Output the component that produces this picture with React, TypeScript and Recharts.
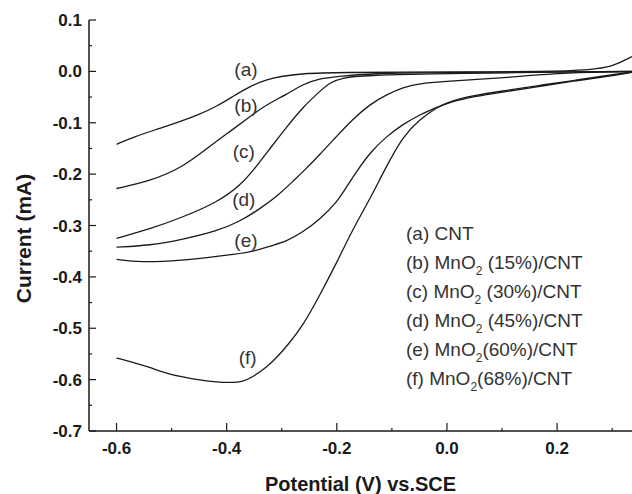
import { Label, Line, LineChart, ReferenceDot, XAxis, YAxis } from "recharts"

const FONT = '"Liberation Sans", Arial, Helvetica, sans-serif'
const INK = "#1a1a1a"

// potentials (V vs SCE) and currents (mA)
const potA = [-0.6, -0.571, -0.509, -0.449, -0.418, -0.389, -0.358, -0.327, -0.304, -0.262, -0.2, 0, 0.26, 0.302, 0.336]
const curA = [-0.142, -0.128, -0.107, -0.084, -0.068, -0.049, -0.029, -0.016, -0.01, -0.004, -0.002, -0.001, 0, 0.01, 0.029]

const potB = [-0.6, -0.54, -0.48, -0.431, -0.389, -0.358, -0.327, -0.291, -0.262, -0.231, -0.2, -0.14, 0, 0.336]
const curB = [-0.228, -0.214, -0.187, -0.146, -0.113, -0.088, -0.064, -0.045, -0.025, -0.014, -0.01, -0.004, -0.002, 0]

const potC = [-0.6, -0.54, -0.48, -0.418, -0.376, -0.34, -0.322, -0.291, -0.262, -0.231, -0.213, -0.189, -0.153, 0, 0.336]
const curC = [-0.325, -0.307, -0.284, -0.255, -0.224, -0.177, -0.151, -0.108, -0.07, -0.039, -0.022, -0.012, -0.008, -0.004, 0]

const potD = [-0.6, -0.54, -0.48, -0.418, -0.376, -0.34, -0.304, -0.276, -0.262, -0.231, -0.2, -0.171, -0.14, -0.109, -0.08, -0.049, 0.005, 0.109, 0.218, 0.336]
const curD = [-0.342, -0.339, -0.327, -0.311, -0.292, -0.268, -0.239, -0.21, -0.196, -0.162, -0.126, -0.093, -0.064, -0.045, -0.031, -0.023, -0.019, -0.012, -0.002, -0.001]

const potE = [-0.6, -0.558, -0.48, -0.418, -0.353, -0.322, -0.291, -0.262, -0.231, -0.2, -0.182, -0.164, -0.14, -0.109, -0.08, -0.049, -0.018, 0.005, 0.047, 0.109, 0.169, 0.229, 0.291, 0.336]
const curE = [-0.366, -0.372, -0.368, -0.36, -0.352, -0.34, -0.331, -0.313, -0.288, -0.255, -0.224, -0.195, -0.158, -0.126, -0.103, -0.084, -0.07, -0.06, -0.049, -0.039, -0.029, -0.019, -0.01, -0.002]

const potF = [-0.6, -0.571, -0.54, -0.509, -0.48, -0.449, -0.418, -0.389, -0.371, -0.353, -0.327, -0.304, -0.291, -0.262, -0.231, -0.2, -0.171, -0.14, -0.113, -0.08, -0.049, -0.018, 0.005, 0.047, 0.109, 0.169, 0.229, 0.291, 0.336]
const curF = [-0.558, -0.566, -0.576, -0.588, -0.595, -0.601, -0.605, -0.606, -0.604, -0.595, -0.576, -0.551, -0.535, -0.496, -0.436, -0.372, -0.307, -0.249, -0.191, -0.126, -0.093, -0.07, -0.058, -0.047, -0.037, -0.027, -0.018, -0.008, -0.001]

const curveTags = ["(a)", "(b)", "(c)", "(d)", "(e)", "(f)"]
const tagPot = [-0.365, -0.365, -0.369, -0.369, -0.365, -0.362]
const tagCur = [0.004, -0.066, -0.156, -0.249, -0.329, -0.556]

const legendNames = [
  "(a) CNT",
  "(b) MnO2 (15%)/CNT",
  "(c) MnO2 (30%)/CNT",
  "(d) MnO2 (45%)/CNT",
  "(e) MnO2(60%)/CNT",
  "(f) MnO2(68%)/CNT",
]

const xTicks = [-0.6, -0.5, -0.4, -0.3, -0.2, -0.1, 0, 0.1, 0.2, 0.3]
const topTicks = [-0.55, -0.45, -0.35, -0.25, -0.15, -0.05, 0.05, 0.15, 0.25]
const yTicks = [-0.7, -0.65, -0.6, -0.55, -0.5, -0.45, -0.4, -0.35, -0.3, -0.25, -0.2, -0.15, -0.1, -0.05, 0, 0.05, 0.1]

const curves = [
  [potA, curA],
  [potB, curB],
  [potC, curC],
  [potD, curD],
  [potE, curE],
  [potF, curF],
].map(([pot, cur]) => pot.map((v, k) => ({ v, i: cur[k] })))

const near = (a: number, step: number) => Math.abs(a / step - Math.round(a / step)) < 1e-6

const BottomTick = ({ x, y, payload }: any) => {
  const v = payload.value
  const major = near(v, 0.2)
  return (
    <g>
      <line x1={x} x2={x} y1={y} y2={y - (major ? 8 : 3)} stroke={INK} strokeWidth={1.2} />
      {major && (
        <text x={x} y={y + 23} textAnchor="middle" fontSize={17} fontWeight="bold" fill={INK} fontFamily={FONT}>
          {v.toFixed(1)}
        </text>
      )}
    </g>
  )
}

const TopTick = ({ x, y }: any) => (
  <line x1={x} x2={x} y1={y} y2={y + 3} stroke={INK} strokeWidth={1} />
)

const LeftTick = ({ x, y, payload }: any) => {
  const v = payload.value
  const major = near(v, 0.1)
  return (
    <g>
      <line x1={x} x2={x + (major ? 7 : 3)} y1={y} y2={y} stroke={INK} strokeWidth={1.2} />
      {major && (
        <text x={x - 7} y={y + 6} textAnchor="end" fontSize={17} fontWeight="bold" fill={INK} fontFamily={FONT}>
          {v.toFixed(1)}
        </text>
      )}
    </g>
  )
}

const YTitle = ({ viewBox }: any) => {
  const cx = viewBox.x + 23
  const cy = viewBox.y + viewBox.height / 2 + 13
  return (
    <text
      x={cx}
      y={cy}
      transform={`rotate(-90 ${cx} ${cy})`}
      textAnchor="middle"
      dominantBaseline="central"
      fontSize={21}
      fontWeight="bold"
      fill={INK}
      fontFamily={FONT}
    >
      Current (mA)
    </text>
  )
}

const LegendLine = ({ name }: { name: string }) => {
  const at = name.indexOf("O2")
  if (at < 0) return <div style={{ height: 29 }}>{name}</div>
  return (
    <div style={{ height: 29 }}>
      {name.slice(0, at + 1)}
      <span style={{ fontSize: 12, lineHeight: 0, position: "relative", top: 6 }}>2</span>
      {name.slice(at + 2)}
    </div>
  )
}

export default function App() {
  return (
    <div
      style={{
        position: "absolute",
        left: 0,
        top: 0,
        width: 632,
        height: 494,
        overflow: "hidden",
        background: "#fff",
      }}
    >
      <LineChart width={632} height={494} margin={{ top: 20, right: 0, bottom: 0, left: 0 }}>
        <XAxis
          dataKey="v"
          type="number"
          domain={[-0.65, 0.336]}
          allowDataOverflow
          ticks={xTicks}
          interval={0}
          height={63}
          tickSize={0}
          tickMargin={0}
          tick={BottomTick}
          axisLine={{ stroke: INK, strokeWidth: 1.5 }}
        >
          <Label
            value="Potential (V) vs.SCE"
            position="insideBottom"
            offset={3}
            fontSize={20}
            fontWeight="bold"
            fill={INK}
            fontFamily={FONT}
          />
        </XAxis>
        <XAxis
          xAxisId="top"
          orientation="top"
          dataKey="v"
          type="number"
          domain={[-0.65, 0.336]}
          allowDataOverflow
          ticks={topTicks}
          interval={0}
          height={0}
          tickSize={0}
          tickMargin={0}
          tick={TopTick}
          axisLine={{ stroke: INK, strokeWidth: 1.5 }}
        />
        <YAxis
          type="number"
          domain={[-0.7, 0.1]}
          allowDataOverflow
          ticks={yTicks}
          interval={0}
          width={89}
          tickSize={0}
          tickMargin={0}
          tick={LeftTick}
          axisLine={{ stroke: INK, strokeWidth: 1.5 }}
        >
          <Label content={YTitle} />
        </YAxis>
        {curves.map((rows, k) => (
          <Line
            key={k}
            data={rows}
            dataKey="i"
            type="basis"
            dot={false}
            activeDot={false}
            stroke={INK}
            strokeWidth={1.3}
            isAnimationActive={false}
          />
        ))}
        {curveTags.map((tag, k) => (
          <ReferenceDot
            key={tag}
            x={tagPot[k]}
            y={tagCur[k]}
            r={0}
            shape={(p: any) => (
              <text
                x={p.cx}
                y={p.cy}
                textAnchor="middle"
                dominantBaseline="central"
                fontSize={19}
                fill="#333"
                fontFamily={FONT}
              >
                {tag}
              </text>
            )}
          />
        ))}
      </LineChart>
      <div
        style={{
          position: "absolute",
          left: 406,
          top: 219,
          fontSize: 19,
          lineHeight: "29px",
          color: "#333",
          fontFamily: FONT,
        }}
      >
        {legendNames.map((n) => (
          <LegendLine key={n} name={n} />
        ))}
      </div>
    </div>
  )
}
